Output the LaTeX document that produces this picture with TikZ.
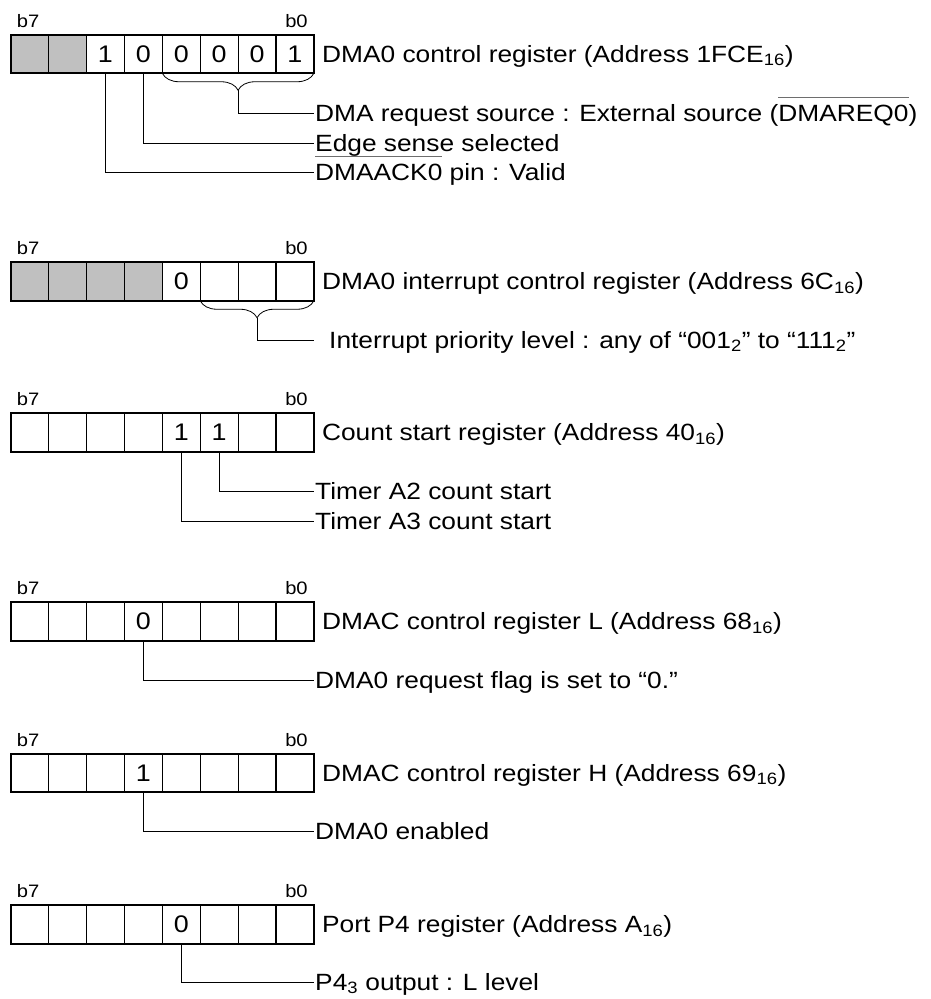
\documentclass[tikz,border=0pt]{standalone}
\usepackage{fontspec}
\setmainfont{Liberation Sans}[FakeStretch=1.12]
\usepackage{tikz}
\usetikzlibrary{positioning, calc, decorations.pathreplacing}
\definecolor{rsvgray}{RGB}{192,192,192}
\definecolor{bargray}{RGB}{110,110,110}
\newcommand{\barsig}[1]{\leavevmode\setbox0=\hbox{#1}%
  \rlap{\raisebox{\dimexpr\ht0+7pt\relax}{\textcolor{bargray}{\rule{\wd0}{0.9pt}}}}\box0\relax}
\tikzset{
  cell/.style={rectangle, draw=black, line width=1.1pt,
    minimum width=37.9pt, minimum height=38.5pt,
    inner sep=0pt, outer sep=0pt, font=\fontsize{24}{28}\selectfont},
  rsvcell/.style={cell, fill=rsvgray},
  frame/.style={draw=black, line width=2pt},
  bitlbl/.style={font=\fontsize{18}{20}\selectfont, inner sep=0pt},
  regname/.style={anchor=west, inner sep=1pt, text height=18.8pt, text depth=2.4pt},
  bitdesc/.style={anchor=west, inner sep=1pt, text height=18.8pt, text depth=2.4pt},
  brc/.style={decorate, decoration={brace, mirror, amplitude=17pt}, line width=0.8pt},
  conn/.style={line width=0.9pt, color=black}
}

\begin{document}
\begin{tikzpicture}[x=1pt, y=-1pt, font=\fontsize{23.5}{27}\selectfont]
  \useasboundingbox (0,0) rectangle (931,999);

  % DMA0 control register
  \foreach \s/\v [count=\n from 0] in {rsvcell/{},rsvcell/{},cell/1,cell/0,cell/0,cell/0,cell/0,cell/1} {
    \pgfmathtruncatemacro\b{7-\n}
    \node[\s] (r1b\b) at ({29.65+37.9*\n}, 54) {\v};
  }
  \draw[frame] (r1b7.north west) rectangle (r1b0.south east);
  \node[bitlbl, anchor=south west] (r1hi) at ([xshift=6pt, yshift=7pt]r1b7.north west) {b7};
  \node[bitlbl, anchor=south east] (r1lo) at ([xshift=-6pt, yshift=7pt]r1b0.north east) {b0};
  \node[regname, right=7pt of r1b0] (r1name) {DMA0 control register (Address 1FCE\textsubscript{16})};
  \draw[brc] (r1b3.south west) -- (r1b0.south east);
  \coordinate (r1tip) at ($(r1b3.south west)!.5!(r1b0.south east)+(0,17)$);
  \node[bitdesc] (r1req) at (314,113) {DMA request source : External source (\barsig{DMAREQ0})};
  \node[bitdesc] (r1edge) at (314,143) {Edge sense selected};
  \node[bitdesc] (r1ack) at (314,172) {\barsig{DMAACK0} pin : Valid};
  \draw[conn] (r1tip) |- (r1req.west);
  \draw[conn] (r1b4.south) |- (r1edge.west);
  \draw[conn] (r1b5.south) |- (r1ack.west);

  % DMA0 interrupt control register
  \foreach \s/\v [count=\n from 0] in {rsvcell/{},rsvcell/{},rsvcell/{},rsvcell/{},cell/0,cell/{},cell/{},cell/{}} {
    \pgfmathtruncatemacro\b{7-\n}
    \node[\s] (r2b\b) at ({29.65+37.9*\n}, 281.5) {\v};
  }
  \draw[frame] (r2b7.north west) rectangle (r2b0.south east);
  \node[bitlbl, anchor=south west] (r2hi) at ([xshift=6pt, yshift=7pt]r2b7.north west) {b7};
  \node[bitlbl, anchor=south east] (r2lo) at ([xshift=-6pt, yshift=7pt]r2b0.north east) {b0};
  \node[regname, right=7pt of r2b0] (r2name) {DMA0 interrupt control register (Address 6C\textsubscript{16})};
  \draw[brc] (r2b2.south west) -- (r2b0.south east);
  \coordinate (r2tip) at ($(r2b2.south west)!.5!(r2b0.south east)+(0,17)$);
  \node[bitdesc] (r2prio) at (328,340) {Interrupt priority level : any of “001\textsubscript{2}” to “111\textsubscript{2}”};
  \draw[conn] (r2tip) |- ([xshift=-14pt]r2prio.west);

  % Count start register
  \foreach \s/\v [count=\n from 0] in {cell/{},cell/{},cell/{},cell/{},cell/1,cell/1,cell/{},cell/{}} {
    \pgfmathtruncatemacro\b{7-\n}
    \node[\s] (r3b\b) at ({29.65+37.9*\n}, 432.5) {\v};
  }
  \draw[frame] (r3b7.north west) rectangle (r3b0.south east);
  \node[bitlbl, anchor=south west] (r3hi) at ([xshift=6pt, yshift=7pt]r3b7.north west) {b7};
  \node[bitlbl, anchor=south east] (r3lo) at ([xshift=-6pt, yshift=7pt]r3b0.north east) {b0};
  \node[regname, right=7pt of r3b0] (r3name) {Count start register (Address 40\textsubscript{16})};
  \node[bitdesc] (r3a2) at (314,491) {Timer A2 count start};
  \node[bitdesc] (r3a3) at (314,521) {Timer A3 count start};
  \draw[conn] (r3b2.south) |- (r3a2.west);
  \draw[conn] (r3b3.south) |- (r3a3.west);

  % DMAC control register L
  \foreach \s/\v [count=\n from 0] in {cell/{},cell/{},cell/{},cell/0,cell/{},cell/{},cell/{},cell/{}} {
    \pgfmathtruncatemacro\b{7-\n}
    \node[\s] (r4b\b) at ({29.65+37.9*\n}, 621.5) {\v};
  }
  \draw[frame] (r4b7.north west) rectangle (r4b0.south east);
  \node[bitlbl, anchor=south west] (r4hi) at ([xshift=6pt, yshift=7pt]r4b7.north west) {b7};
  \node[bitlbl, anchor=south east] (r4lo) at ([xshift=-6pt, yshift=7pt]r4b0.north east) {b0};
  \node[regname, right=7pt of r4b0] (r4name) {DMAC control register L (Address 68\textsubscript{16})};
  \node[bitdesc] (r4flag) at (314,680) {DMA0 request flag is set to “0.”};
  \draw[conn] (r4b4.south) |- (r4flag.west);

  % DMAC control register H
  \foreach \s/\v [count=\n from 0] in {cell/{},cell/{},cell/{},cell/1,cell/{},cell/{},cell/{},cell/{}} {
    \pgfmathtruncatemacro\b{7-\n}
    \node[\s] (r5b\b) at ({29.65+37.9*\n}, 773) {\v};
  }
  \draw[frame] (r5b7.north west) rectangle (r5b0.south east);
  \node[bitlbl, anchor=south west] (r5hi) at ([xshift=6pt, yshift=7pt]r5b7.north west) {b7};
  \node[bitlbl, anchor=south east] (r5lo) at ([xshift=-6pt, yshift=7pt]r5b0.north east) {b0};
  \node[regname, right=7pt of r5b0] (r5name) {DMAC control register H (Address 69\textsubscript{16})};
  \node[bitdesc] (r5en) at (314,831) {DMA0 enabled};
  \draw[conn] (r5b4.south) |- (r5en.west);

  % Port P4 register
  \foreach \s/\v [count=\n from 0] in {cell/{},cell/{},cell/{},cell/{},cell/0,cell/{},cell/{},cell/{}} {
    \pgfmathtruncatemacro\b{7-\n}
    \node[\s] (r6b\b) at ({29.65+37.9*\n}, 924.5) {\v};
  }
  \draw[frame] (r6b7.north west) rectangle (r6b0.south east);
  \node[bitlbl, anchor=south west] (r6hi) at ([xshift=6pt, yshift=7pt]r6b7.north west) {b7};
  \node[bitlbl, anchor=south east] (r6lo) at ([xshift=-6pt, yshift=7pt]r6b0.north east) {b0};
  \node[regname, right=7pt of r6b0] (r6name) {Port P4 register (Address A\textsubscript{16})};
  \node[bitdesc] (r6p4) at (314,982) {P4\textsubscript{3} output : L level};
  \draw[conn] (r6b3.south) |- (r6p4.west);

\end{tikzpicture}
\end{document}
